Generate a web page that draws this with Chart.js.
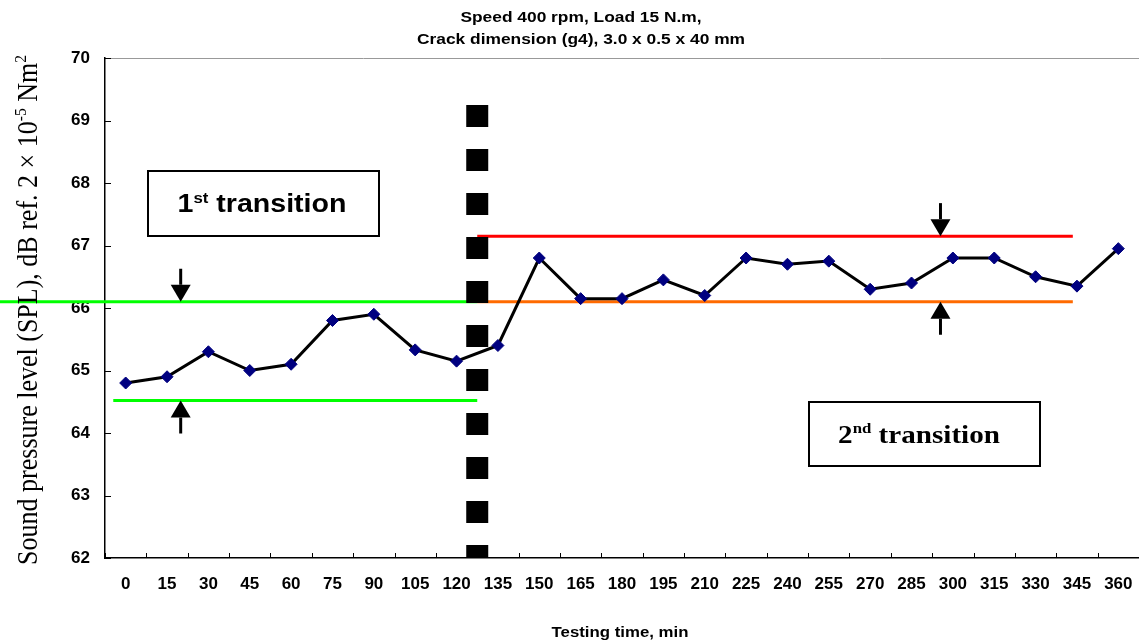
<!DOCTYPE html>
<html>
<head>
<meta charset="utf-8">
<script src="https://cdn.jsdelivr.net/npm/chart.js@4"></script>
<style>
  html, body { margin: 0; padding: 0; background: #fff; overflow: hidden; }
  #wrap { width: 1139px; height: 641px; }
</style>
</head>
<body>
<div id="wrap"><canvas id="splChart"></canvas></div>
<script>
// testing time, min
const timeLabels = ['0', '15', '30', '45', '60', '75', '90', '105', '120', '135', '150', '165', '180',
  '195', '210', '225', '240', '255', '270', '285', '300', '315', '330', '345', '360'];
// SPL, dB
const splValues = [64.8, 64.9, 65.3, 65.0, 65.1, 65.8, 65.9, 65.33, 65.15, 65.4, 66.8, 66.15, 66.15,
  66.45, 66.2, 66.8, 66.7, 66.75, 66.3, 66.4, 66.8, 66.8, 66.5, 66.35, 66.95];

const titleLines = ['Speed 400 rpm, Load 15 N.m,', 'Crack dimension (g4), 3.0 x 0.5 x 40 mm'];
const xTitle = 'Testing time, min';
const yRange = [62, 70];

// band limits (dB) for each transition
const firstBand = [64.52, 66.1];
const secondBand = [66.1, 67.15];

const SANS = '"Liberation Sans", Arial, sans-serif';
const SERIF = '"Liberation Serif", "Times New Roman", serif';
const STRETCH = 1.12; // the original text looks a bit wide

// draw a run of text pieces (for superscripts)
function drawRuns(ctx, runs, x, y, align) {
  let total = 0;
  runs.forEach(r => { ctx.font = r.font; total += ctx.measureText(r.t).width; });
  let cx = align === 'center' ? x - total / 2 : x;
  ctx.textAlign = 'left';
  ctx.textBaseline = 'alphabetic';
  runs.forEach(r => {
    ctx.font = r.font;
    ctx.fillText(r.t, cx, y - (r.rise || 0));
    cx += ctx.measureText(r.t).width;
  });
}

function hLine(ctx, x1, x2, y, color) {
  ctx.save();
  ctx.strokeStyle = color;
  ctx.lineWidth = 3;
  ctx.beginPath();
  ctx.moveTo(x1, y);
  ctx.lineTo(x2, y);
  ctx.stroke();
  ctx.restore();
}

function arrow(ctx, x, tipY, dir) {
  // dir = 1 points down, -1 points up
  const len = 33, head = 17, half = 10;
  ctx.save();
  ctx.fillStyle = '#000';
  ctx.strokeStyle = '#000';
  ctx.lineWidth = 3;
  ctx.beginPath();
  ctx.moveTo(x, tipY - dir * len);
  ctx.lineTo(x, tipY - dir * head);
  ctx.stroke();
  ctx.beginPath();
  ctx.moveTo(x, tipY);
  ctx.lineTo(x - half, tipY - dir * head);
  ctx.lineTo(x + half, tipY - dir * head);
  ctx.closePath();
  ctx.fill();
  ctx.restore();
}

const decorPlugin = {
  id: 'decor',
  beforeDatasetsDraw(chart) {
    const ctx = chart.ctx;
    const xs = chart.scales.x, ys = chart.scales.y;
    const area = chart.chartArea;
    // top frame line
    ctx.save();
    ctx.strokeStyle = '#999';
    ctx.lineWidth = 1;
    ctx.beginPath();
    ctx.moveTo(area.left, area.top + 0.5);
    ctx.lineTo(area.right, area.top + 0.5);
    ctx.stroke();
    ctx.restore();

    const split = xs.getPixelForValue(8.5);
    hLine(ctx, 0, split, ys.getPixelForValue(firstBand[1]), '#00ff00');
    hLine(ctx, xs.getPixelForValue(-0.3), split, ys.getPixelForValue(firstBand[0]), '#00ff00');
    hLine(ctx, split, xs.getPixelForValue(22.9), ys.getPixelForValue(secondBand[1]), '#ff0000');
    hLine(ctx, split, xs.getPixelForValue(22.9), ys.getPixelForValue(secondBand[0]), '#ff6a00');

    // inside tick marks
    ctx.save();
    ctx.strokeStyle = '#000';
    ctx.lineWidth = 1;
    ctx.beginPath();
    for (let v = yRange[0]; v <= yRange[1]; v++) {
      const py = Math.round(ys.getPixelForValue(v)) + 0.5;
      ctx.moveTo(area.left, py);
      ctx.lineTo(area.left + 6, py);
    }
    for (let i = 0; i <= timeLabels.length; i++) {
      const px = Math.round(xs.getPixelForValue(i - 0.5)) + 0.5;
      ctx.moveTo(px, area.bottom);
      ctx.lineTo(px, area.bottom - 5);
    }
    ctx.stroke();
    ctx.restore();
  },
  afterDatasetsDraw(chart) {
    const ctx = chart.ctx;
    const xs = chart.scales.x, ys = chart.scales.y;
    const area = chart.chartArea;

    // thick dashed separator between the transitions
    const sx = xs.getPixelForValue(8.5);
    ctx.save();
    ctx.strokeStyle = '#000';
    ctx.lineWidth = 22;
    ctx.lineCap = 'butt';
    ctx.setLineDash([22, 22]);
    ctx.beginPath();
    ctx.moveTo(sx, ys.getPixelForValue(69.25));
    ctx.lineTo(sx, area.bottom);
    ctx.stroke();
    ctx.restore();

    // arrows
    arrow(ctx, xs.getPixelForValue(1.33), ys.getPixelForValue(firstBand[1]), 1);
    arrow(ctx, xs.getPixelForValue(1.33), ys.getPixelForValue(firstBand[0]), -1);
    arrow(ctx, xs.getPixelForValue(19.7), ys.getPixelForValue(secondBand[1]), 1);
    arrow(ctx, xs.getPixelForValue(19.7), ys.getPixelForValue(secondBand[0]), -1);

    // label boxes
    ctx.save();
    ctx.strokeStyle = '#000';
    ctx.lineWidth = 2;
    ctx.fillStyle = '#fff';
    ctx.fillRect(148, 171, 231, 65);
    ctx.strokeRect(148, 171, 231, 65);
    ctx.fillRect(809, 402, 231, 64);
    ctx.strokeRect(809, 402, 231, 64);
    ctx.fillStyle = '#000';
    ctx.save();
    ctx.translate(262, 212);
    ctx.scale(STRETCH, 1);
    drawRuns(ctx, [
      { t: '1', font: 'bold 25.5px ' + SANS },
      { t: 'st', font: 'bold 15px ' + SANS, rise: 9 },
      { t: ' transition', font: 'bold 25.5px ' + SANS }
    ], 0, 0, 'center');
    ctx.restore();
    ctx.save();
    ctx.translate(919, 443);
    ctx.scale(STRETCH, 1);
    drawRuns(ctx, [
      { t: '2', font: 'bold 26px ' + SERIF },
      { t: 'nd', font: 'bold 15px ' + SERIF, rise: 10 },
      { t: ' transition', font: 'bold 26px ' + SERIF }
    ], 0, 0, 'center');
    ctx.restore();
    ctx.restore();
  },
  afterDraw(chart) {
    const ctx = chart.ctx;
    ctx.save();
    ctx.fillStyle = '#000';
    // chart title
    titleLines.forEach((line, i) => {
      ctx.save();
      ctx.translate(581, 22 + i * 22);
      ctx.scale(STRETCH, 1);
      ctx.font = 'bold 15.5px ' + SANS;
      ctx.textAlign = 'center';
      ctx.textBaseline = 'alphabetic';
      ctx.fillText(line, 0, 0);
      ctx.restore();
    });
    // x axis title
    ctx.save();
    ctx.translate(620, 637);
    ctx.scale(STRETCH, 1);
    ctx.font = 'bold 15px ' + SANS;
    ctx.textAlign = 'center';
    ctx.fillText(xTitle, 0, 0);
    ctx.restore();
    // y axis title with superscripts
    ctx.save();
    ctx.translate(37, 310);
    ctx.rotate(-Math.PI / 2);
    ctx.scale(1, STRETCH);
    drawRuns(ctx, [
      { t: 'Sound pressure level (SPL), dB ref. 2 \u00d7 10', font: '26px ' + SERIF },
      { t: '-5', font: '15.5px ' + SERIF, rise: 10 },
      { t: ' Nm', font: '26px ' + SERIF },
      { t: '2', font: '15.5px ' + SERIF, rise: 10 }
    ], 0, 0, 'center');
    ctx.restore();
    ctx.restore();
  }
};

new Chart(document.getElementById('splChart'), {
  type: 'line',
  data: {
    labels: timeLabels,
    datasets: [{
      data: splValues,
      borderColor: '#000',
      borderWidth: 3,
      tension: 0,
      pointStyle: 'rectRot',
      pointRadius: 6,
      pointBackgroundColor: '#000080',
      pointBorderColor: '#000080',
      pointBorderWidth: 1
    }]
  },
  options: {
    responsive: true,
    maintainAspectRatio: false,
    animation: false,
    events: [],
    layout: { autoPadding: false, padding: { top: 58, right: 0, left: 0, bottom: 0 } },
    plugins: {
      legend: { display: false },
      title: { display: false },
      tooltip: { enabled: false }
    },
    scales: {
      x: {
        type: 'category',
        offset: true,
        grid: { display: false, drawTicks: false },
        border: { display: true, color: '#000', width: 1.5 },
        ticks: {
          color: '#000',
          font: { family: SANS, size: 17, weight: 'bold' },
          padding: 16,
          maxRotation: 0,
          autoSkip: false
        },
        afterFit: s => { s.height = 83; s.paddingLeft = 0; s.paddingRight = 0; }
      },
      y: {
        min: yRange[0],
        max: yRange[1],
        grid: { display: false, drawTicks: false },
        border: { display: true, color: '#000', width: 1.5 },
        ticks: {
          stepSize: 1,
          color: '#000',
          font: { family: SANS, size: 17, weight: 'bold' },
          padding: 15
        },
        afterFit: s => { s.width = 105; s.paddingTop = 0; s.paddingBottom = 0; }
      }
    }
  },
  plugins: [decorPlugin]
});
</script>
</body>
</html>
